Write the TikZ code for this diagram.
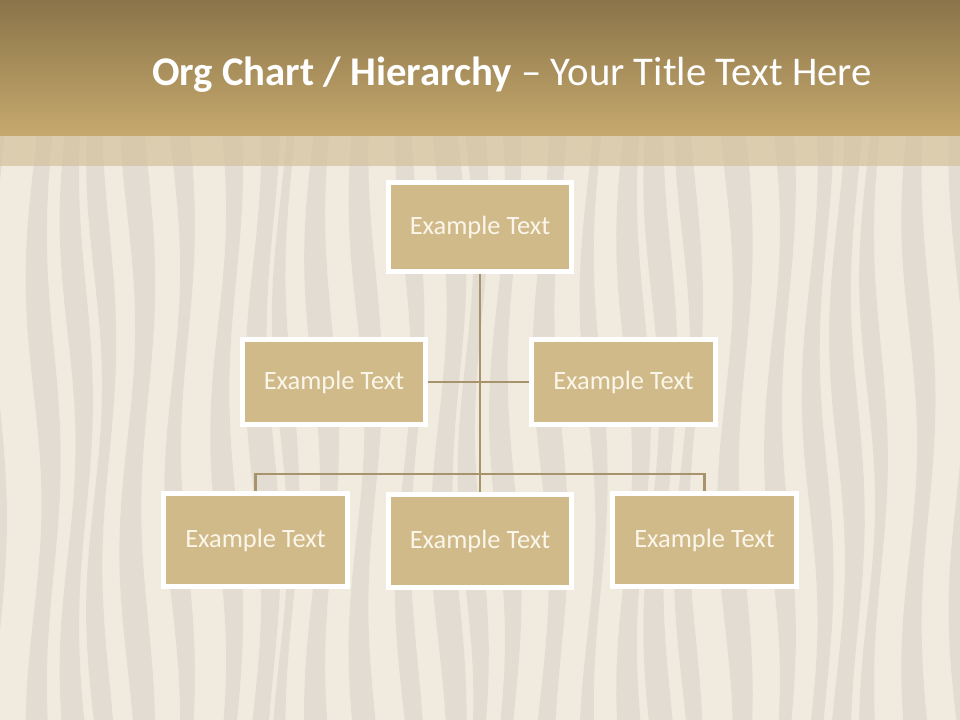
\documentclass[tikz,border=0pt]{standalone}
\usepackage{fontspec}
\setmainfont{Carlito}
\definecolor{sand}{HTML}{F0EADF}
\definecolor{ripple}{HTML}{D9D1C8}
\definecolor{bandtop}{HTML}{8A7449}
\definecolor{bandbot}{HTML}{C6A96D}
\definecolor{strip}{HTML}{D5C29C}
\definecolor{boxfill}{HTML}{D1BA8A}
\definecolor{boxtext}{HTML}{FBF6EA}
\definecolor{linkcol}{HTML}{A8946A}
\tikzset{
  orgbox/.style={draw=white, line width=2.2pt, fill=boxfill, text=boxtext,
    font=\fontsize{18.8}{22}\selectfont, minimum width=4.55cm, minimum height=2.2cm,
    inner sep=0pt},
  link/.style={draw=linkcol, line width=2.1pt}
}
\begin{document}
\begin{tikzpicture}[x=0.025cm, y=-0.025cm]
\useasboundingbox (0,0) rectangle (960,720);
% sand background
\fill[sand] (0,0) rectangle (960,720);
\foreach \k in {0,...,26} {
  \pgfmathsetmacro{\xo}{\k*37-12+9*sin(\k*71)}
  \pgfmathsetmacro{\wd}{12+9*abs(sin(\k*113))}
  \fill[ripple, opacity=0.55]
    plot[domain=135:720, samples=25, variable=\t] ({\xo+8*sin(\t*0.8+\k*47)}, \t)
    -- plot[domain=720:135, samples=25, variable=\t] ({\xo+\wd+7*sin(\t*0.8+\k*47+35)}, \t)
    -- cycle;
}
% title band
\fill[strip, opacity=0.7] (0,135) rectangle (960,166);
\shade[top color=bandtop, bottom color=bandbot] (0,0) rectangle (960,136);
\node[anchor=west, text=white, font=\fontsize{29}{34}\selectfont, inner sep=0pt] (title) at (152,75)
  {\textbf{Org Chart / Hierarchy} -- Your Title Text Here};
% boxes
\node[orgbox] (top) at (480,227) {Example Text};
\node[orgbox, minimum height=2.1cm] (ml) at (334,382) {Example Text};
\node[orgbox, minimum height=2.1cm] (mr) at (623.5,382) {Example Text};
\node[orgbox, minimum height=2.3cm] (bl) at (255.5,540) {Example Text};
\node[orgbox, minimum height=2.3cm] (bm) at (480,541) {Example Text};
\node[orgbox, minimum height=2.3cm] (br) at (704.5,540) {Example Text};
% connectors
\coordinate (bar) at (480,474);
\draw[link] (top.south) -- (bm.north);
\draw[link] (ml.east) -- (mr.west);
\draw[link] (bl.north) |- (bar) -| (br.north);
% redraw boxes over the lines
\foreach \n in {top,ml,mr,bl,bm,br} {
  \draw[white, line width=2.2pt] (\n.south west) rectangle (\n.north east);
}
\end{tikzpicture}
\end{document}
